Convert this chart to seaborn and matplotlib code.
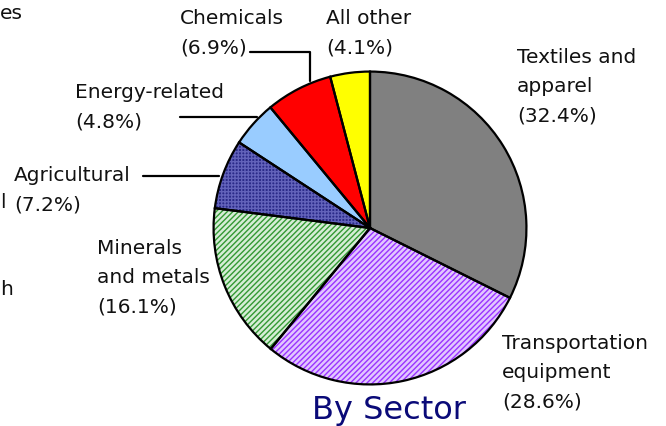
import numpy as np
import matplotlib
matplotlib.use("Agg")
import matplotlib.pyplot as plt
from matplotlib.lines import Line2D
import seaborn as sns

# sector shares (%), clockwise from 12 o'clock
sectors = ['Textiles and\napparel', 'Transportation\nequipment', 'Minerals\nand metals',
           'Agricultural', 'Energy-related', 'Chemicals', 'All other']
shares = [32.4, 28.6, 16.1, 7.2, 4.8, 6.9, 4.1]

fill_colors = ['#808080', '#E2C6FF', '#D6EDD6', '#2A2A88', '#99CCFF', '#FF0000', '#FFFF00']
hatch_colors = ['#808080', '#9933FF', '#339933', '#6262BA', '#99CCFF', '#FF0000', '#FFFF00']
hatches = [None, '//////', '//////', '+++++', None, None, None]

sns.set_theme(style='white')
plt.rcParams['font.family'] = ['DejaVu Sans']
plt.rcParams['hatch.linewidth'] = 1.0

W, H = 666, 427
fig = plt.figure(figsize=(W / 100, H / 100), dpi=100)

# pie axes in pixel terms: centre (370, 229), radius 158
cx, cy, r = 370, 229, 158
ax = fig.add_axes([(cx - r) / W, (H - cy - r) / H, 2 * r / W, 2 * r / H])

wedges, _ = ax.pie(shares, startangle=90, counterclock=False, radius=1,
                   colors=fill_colors, wedgeprops=dict(linewidth=0))
for w, hc, h in zip(wedges, hatch_colors, hatches):
    w.set_edgecolor(hc)
    if h:
        w.set_hatch(h)

ax.pie(shares, startangle=90, counterclock=False, radius=1,
       colors=['none'] * len(shares),
       wedgeprops=dict(edgecolor='black', linewidth=1.6))
ax.set_xlim(-1.01, 1.01)
ax.set_ylim(-1.01, 1.01)
ax.set_aspect('equal')
ax.axis('off')


def px(x, y):
    return x / W, 1 - y / H


labels = [f"{s}\n({v}%)" for s, v in zip(sectors, shares)]
label_pos = [(517, 48), (502, 334), (97, 239), (14, 166), (75, 83), (180, 9), (326, 9)]

for lab, (x, y) in zip(labels, label_pos):
    fig.text(*px(x, y), lab, fontsize=14.5, color='#111111', ha='left', va='top',
             linespacing=1.68)

# fragments of neighbouring text at the left edge
fig.text(*px(0, 4), 'es', fontsize=14.5, color='#111111', ha='left', va='top')
fig.text(*px(0, 193), 'l', fontsize=14.5, color='#111111', ha='left', va='top')
fig.text(*px(0, 280), 'h', fontsize=14.5, color='#111111', ha='left', va='top')

fig.text(*px(312, 395), 'By Sector', fontsize=23, color='#0A0A78', ha='left', va='top')

# leader lines
leaders = [
    [(250, 53), (310, 53), (310, 82)],
    [(180, 118), (257, 118)],
    [(143, 177), (219, 177)],
]
for pts in leaders:
    xs = [p[0] / W for p in pts]
    ys = [1 - p[1] / H for p in pts]
    fig.add_artist(Line2D(xs, ys, color='black', linewidth=1.6))

fig.savefig('out.png', dpi=100)
